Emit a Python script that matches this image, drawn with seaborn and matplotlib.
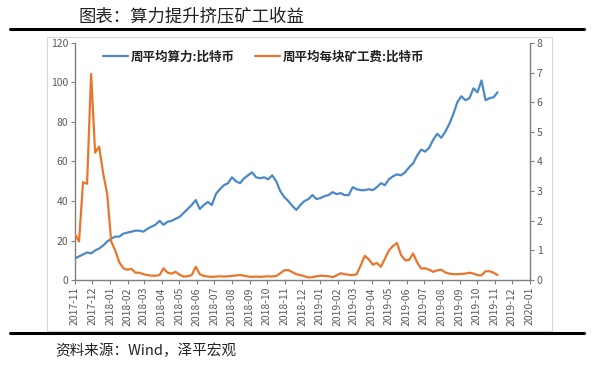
import pandas as pd
import numpy as np
import matplotlib
matplotlib.use("Agg")
import matplotlib.pyplot as plt
import matplotlib.dates as mdates
from matplotlib.patches import Rectangle
from matplotlib.lines import Line2D
import seaborn as sns

# ========= DATOS (lectura aproximada del gráfico, semanal) =========
START_DATE = "2017-11-01"

hashrate = [
    11, 12, 13, 14, 13.5, 15, 16, 17.5, 19.5, 21,
    22, 22, 23.5, 24, 24.5, 25, 25, 24.5, 26, 27,
    28, 30, 28, 29.5, 30, 31, 32, 34, 36, 38,
    40.5, 36, 38, 39.5, 38, 43.5, 46, 48, 49, 52,
    50, 49, 51.5, 53, 54.5, 52, 51.5, 52, 51, 53,
    50, 45, 42, 40, 37.5, 35.5, 38, 40, 41, 43,
    41, 41.5, 42.5, 43, 44.5, 43.5, 44, 43, 43, 47,
    46, 45.5, 45.5, 46, 45.5, 47, 49, 48, 51, 52.5,
    53.5, 53, 54.5, 57, 59, 63, 66, 65, 67, 71,
    74, 72, 75, 79, 84, 90, 93, 91, 92, 97,
    95, 101, 91, 92, 92.5, 95,
]

fee = [
    1.55, 1.3, 3.3, 3.25, 6.95, 4.3, 4.5, 3.6, 2.9, 1.3,
    1.0, 0.6, 0.4, 0.35, 0.38, 0.25, 0.25, 0.2, 0.17, 0.15,
    0.15, 0.17, 0.4, 0.25, 0.22, 0.28, 0.18, 0.12, 0.13, 0.17,
    0.45, 0.2, 0.14, 0.12, 0.11, 0.12, 0.13, 0.12, 0.13, 0.14,
    0.16, 0.17, 0.15, 0.12, 0.11, 0.12, 0.11, 0.12, 0.13, 0.12,
    0.14, 0.23, 0.33, 0.34, 0.27, 0.2, 0.17, 0.13, 0.09, 0.1,
    0.13, 0.15, 0.14, 0.13, 0.1, 0.16, 0.23, 0.2, 0.18, 0.17,
    0.2, 0.5, 0.82, 0.7, 0.52, 0.58, 0.45, 0.72, 1.0, 1.15,
    1.25, 0.85, 0.67, 0.68, 0.9, 0.6, 0.39, 0.4, 0.35, 0.28,
    0.33, 0.35, 0.26, 0.22, 0.2, 0.2, 0.21, 0.22, 0.25, 0.22,
    0.17, 0.16, 0.3, 0.3, 0.25, 0.17,
]

label_hash = "周平均算力:比特币"
label_fee = "周平均每块矿工费:比特币"
title = "图表：算力提升挤压矿工收益"
source = "资料来源：Wind，泽平宏观"

BLUE = "#4A89C8"
ORANGE = "#E8762D"
GREY = "#7F7F7F"
TXT = "#595959"

dates = pd.date_range(START_DATE, periods=len(hashrate), freq="7D")
df = pd.DataFrame({"fecha": dates, "hash": hashrate, "fee": fee})

# ========= ESTILO =========
sns.set_theme(style="white")
plt.rcParams["font.family"] = ["Noto Sans CJK SC", "DejaVu Sans"]

fig = plt.figure(figsize=(6, 3.76), dpi=100)
ax = fig.add_axes([0.125, 0.255, 0.758, 0.631])
ax2 = ax.twinx()

sns.lineplot(data=df, x="fecha", y="hash", ax=ax, color=BLUE, linewidth=1.6)
sns.lineplot(data=df, x="fecha", y="fee", ax=ax2, color=ORANGE, linewidth=1.6)

ax.set_ylim(0, 120)
ax.set_yticks(range(0, 121, 20))
ax2.set_ylim(0, 8)
ax2.set_yticks(range(0, 9))
ax.set_xlim(pd.Timestamp("2017-11-01"), pd.Timestamp("2020-01-01"))
ax.xaxis.set_major_locator(mdates.MonthLocator())
ax.xaxis.set_major_formatter(mdates.DateFormatter("%Y-%m"))

for a in (ax, ax2):
    a.set_xlabel("")
    a.set_ylabel("")
    a.grid(False)
    a.spines["top"].set_visible(False)
    for s in ("left", "right", "bottom"):
        a.spines[s].set_color(GREY)
        a.spines[s].set_linewidth(1.0)
    a.tick_params(colors=GREY, labelcolor=TXT, labelsize=7.5, length=3, width=0.8, direction="out")

ax.spines["right"].set_visible(False)
ax2.spines["left"].set_visible(False)
ax2.spines["bottom"].set_visible(False)
ax.tick_params(axis="y", left=True, pad=2)
ax2.tick_params(axis="y", right=True, pad=2)
ax.tick_params(axis="x", bottom=True, pad=2)
for lab in ax.get_xticklabels():
    lab.set_rotation(90)
    lab.set_fontsize(7.5)

# leyenda
handles = [Line2D([0], [0], color=BLUE, lw=1.6), Line2D([0], [0], color=ORANGE, lw=1.6)]
leg = ax.legend(handles, [label_hash, label_fee], loc="upper left", bbox_to_anchor=(0.045, 1.0),
                ncol=2, frameon=False, fontsize=9, handlelength=2.0, handletextpad=0.25,
                columnspacing=1.6, borderaxespad=0.2)
for t in leg.get_texts():
    t.set_fontweight("bold")
    t.set_color("#222222")

# marco, líneas y textos
fig.patches.append(Rectangle((47 / 600, 1 - 331 / 376), (552 - 47) / 600, (331 - 37) / 376,
                             transform=fig.transFigure, fill=False, edgecolor="#D9D9D9", lw=0.8))
fig.add_artist(Line2D([10 / 600, 584 / 600], [1 - 29 / 376] * 2, color="black", lw=2.2, transform=fig.transFigure))
fig.add_artist(Line2D([10 / 600, 584 / 600], [1 - 333 / 376] * 2, color="black", lw=2.2, transform=fig.transFigure))
fig.text(78 / 600, 1 - 17 / 376, title, fontsize=12.5, va="center", ha="left", color="#222222")
fig.text(55 / 600, 1 - 351 / 376, source, fontsize=10.5, va="center", ha="left", color="#222222",
         fontstyle="italic")

plt.savefig("out.png", dpi=100)
plt.close()
